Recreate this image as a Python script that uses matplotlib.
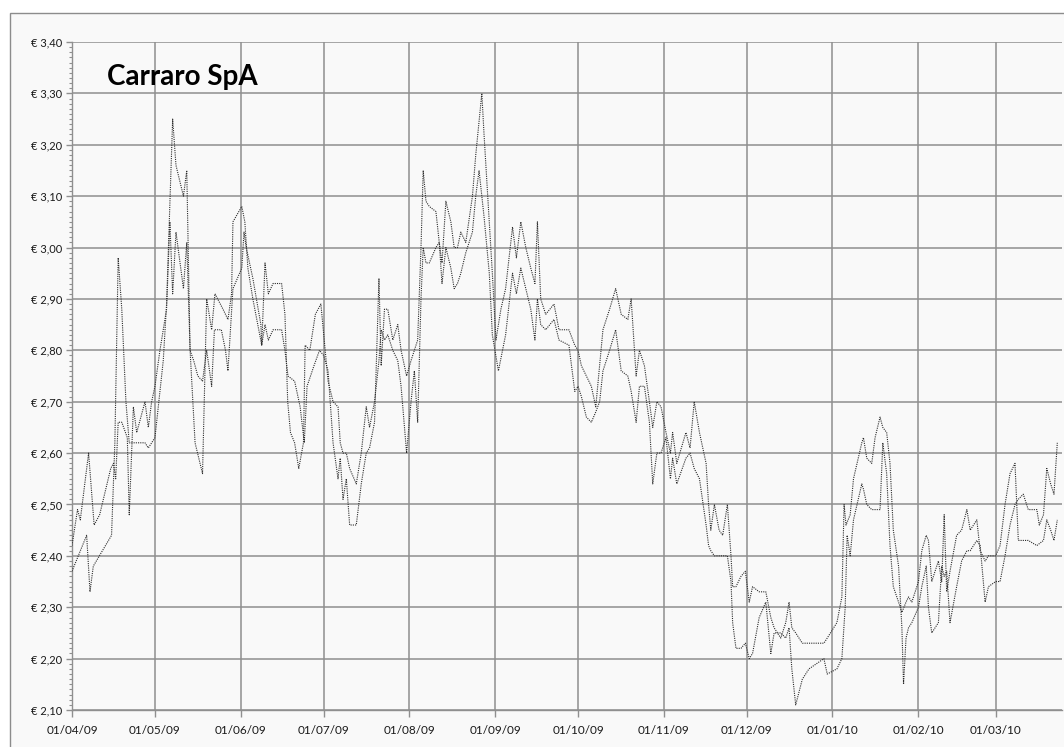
import numpy as np
import matplotlib
matplotlib.use('Agg')
import matplotlib.pyplot as plt
import matplotlib.dates as mdates
from matplotlib.ticker import MultipleLocator, FuncFormatter
from matplotlib.patches import Rectangle

# days counted from 01/04/09, values in euro
day_a = [0, 2, 3, 6, 8, 10, 14, 15, 15.8, 16.7, 18, 20, 20.7, 22.2, 23.4, 26.4, 27.6, 28.8,
         30, 31.8, 34.2, 35.4, 36.4, 37.6, 40.3, 41.5, 42.7, 44.5, 47.2, 48.7, 50.5, 51.7,
         54.6, 56.4, 57.7, 58.2, 61.4, 62.5, 63.6, 65.4, 68.6, 69.8, 71, 72.7, 75.8, 77, 78,
         79, 80.5, 82, 83.7, 84.3, 86, 88, 90,
         92.6, 94.4, 96.2, 97, 98, 99.2, 100.4, 102.8, 104.6, 106.4, 107.6, 109.4, 111,
         111.8, 113, 114.2, 116, 117.8, 119, 121, 122.6, 123.8, 125, 126.2, 127, 128, 129.2,
         131.6, 132.8, 133.8, 135.2, 137, 138.2, 139.4, 140.6, 142.4, 144.8, 146, 147.2, 149,
         150.9, 152, 154.2, 156.8, 159.3, 160.7, 162.3, 164.1, 165.9, 167.4, 168.3, 169.5,
         171.3, 174.3, 176.1, 179.7, 181.8,
         183, 184.2, 186, 187.8, 189.4, 190.8, 192, 194.4, 196.6, 198.6, 201, 202.2, 204,
         205.2, 207, 208.8, 210, 211.5, 213, 214.8, 216.4, 217.2, 218.7, 222, 223.5, 225,
         226.9, 229.3, 230.2, 231, 232.3, 234, 235.3, 237, 238.3, 238.9, 240.1, 241.9, 243.5,
         244.9, 246.1, 248.5, 250.9, 252.7, 253.9, 256.3, 258.1, 259.3, 260.3, 261.7, 264.1,
         266.5, 271.9, 273.1,
         276.6, 278.4, 279.6, 280.3, 281.4, 282.6, 285.6, 286.2, 287.4, 289.2, 290.4, 292.2,
         293.2, 294.6, 295.8, 297, 298.9, 300.1, 301.6, 302.5, 303.7, 306.1, 307.3, 308.9,
         309.7, 310.9, 313.3, 314.5, 315.4, 316.3, 317.5, 319.9, 321.7, 323.6, 324.8, 327.2,
         328.4, 330.2, 331.4, 334, 335.6, 337.4, 339.2, 341, 342.2, 344, 345.8, 348.9, 351.3,
         352.5, 353.9, 355.1, 356.3]
price_a = [2.42, 2.49, 2.47, 2.60, 2.46, 2.48, 2.57, 2.58, 2.55, 2.66, 2.66, 2.63, 2.48, 2.69,
           2.64, 2.70, 2.65, 2.70, 2.73, 2.80, 2.88, 3.05, 2.91, 3.03, 2.92, 3.01, 2.80, 2.62,
           2.56, 2.90, 2.84, 2.91, 2.88, 2.86, 2.91, 3.05, 3.08, 3.05, 2.96, 2.90, 2.81, 2.97,
           2.91, 2.93, 2.93, 2.87, 2.70, 2.64, 2.62, 2.57, 2.62, 2.81, 2.80, 2.87, 2.89,
           2.74, 2.70, 2.69, 2.62, 2.60, 2.60, 2.57, 2.54, 2.60, 2.69, 2.65, 2.70, 2.78,
           2.84, 2.82, 2.83, 2.80, 2.78, 2.73, 2.60, 2.70, 2.76, 2.66, 2.90, 3.00, 2.97, 2.97,
           3.00, 3.01, 2.93, 3.00, 2.96, 2.92, 2.93, 2.95, 2.99, 3.03, 3.10, 3.15, 3.06,
           2.95, 2.83, 2.76, 2.83, 2.95, 2.91, 2.96, 2.92, 2.88, 2.82, 2.90, 2.85,
           2.84, 2.86, 2.82, 2.81, 2.72,
           2.73, 2.71, 2.67, 2.66, 2.68, 2.70, 2.76, 2.80, 2.84, 2.76, 2.75, 2.72, 2.66,
           2.73, 2.73, 2.66, 2.54, 2.60, 2.60, 2.63, 2.55, 2.59, 2.54, 2.59, 2.60, 2.57,
           2.55, 2.46, 2.42, 2.41, 2.40, 2.40, 2.40, 2.40, 2.35, 2.27, 2.22, 2.22, 2.23,
           2.20, 2.21, 2.28, 2.31, 2.21, 2.25, 2.25, 2.24, 2.26, 2.18, 2.11, 2.16,
           2.18, 2.20, 2.17,
           2.18, 2.20, 2.30, 2.44, 2.40, 2.47, 2.54, 2.53, 2.50, 2.49, 2.49, 2.49,
           2.62, 2.56, 2.42, 2.34, 2.31, 2.29, 2.31, 2.32, 2.31, 2.35, 2.41, 2.44,
           2.43, 2.35, 2.39, 2.35, 2.48, 2.33, 2.37, 2.44, 2.45, 2.49, 2.45, 2.47,
           2.41, 2.39, 2.40, 2.40, 2.42, 2.50, 2.56, 2.58, 2.43, 2.43, 2.43, 2.42, 2.43,
           2.47, 2.45, 2.43, 2.47]

day_b = [0, 5.3, 6.5, 7.7, 11, 14.3, 15.5, 16.7, 18, 19.5, 20.7, 22.2, 26.4, 27.6, 30, 31.8,
         33, 34.2, 36.4, 37.6, 40.3, 41.5, 42.7, 44, 45.5, 47.2, 48.7, 50.5, 51.5, 54, 55.5,
         56.4, 58.2, 61.4, 62.2, 63, 65.4, 68.3, 68.6, 69.8, 71, 72.7, 75.8, 77, 78.1, 80.5,
         82.5, 84, 85, 87.5, 89.5, 91,
         92.6, 94.4, 96.2, 97, 98, 99.2, 100.4, 102.8, 104.6, 106.4, 107.6, 109.4, 111,
         111.8, 113, 114.2, 116, 117.8, 119, 121, 122.6, 123.8, 125, 126.2, 127, 128, 129.2,
         131.6, 132.8, 133.8, 135.2, 137, 138.2, 139.4, 140.6, 142.4, 144.8, 146, 148.2, 149,
         150.9, 152, 153.3, 155.1, 156.8, 159.3, 160.7, 162.3, 164.1, 165.9, 167.4, 168.3,
         169.5, 171.3, 174.3, 176.1, 179.7, 181.8,
         183, 184.2, 186, 187.8, 189.4, 190.8, 192, 194.4, 196.6, 198.6, 201, 202.2, 204,
         205.2, 207, 208.8, 210, 211.5, 213, 214.8, 216.4, 217.2, 218.7, 222, 223.5, 225,
         226.9, 229.3, 230.2, 231, 232.3, 234, 235.3, 237, 238.3, 238.9, 240.1, 241.9, 243.5,
         244.9, 246.1, 248.5, 250.9, 252.7, 253.9, 256.3, 258.1, 259.3, 260.3, 261.7, 264.1,
         266.5, 271.9, 273.1,
         276.6, 278.4, 279.2, 279.9, 281.4, 282.6, 285.6, 286.2, 287.4, 289.2, 290.4, 292.2,
         293.2, 294.6, 295.8, 297, 298.9, 300.1, 300.7, 301.6, 302.5, 303.7, 306.1, 307.3,
         308.9, 309.7, 310.9, 313.3, 314.5, 315.4, 316.3, 317.5, 319.9, 321.7, 323.6, 324.8,
         327.2, 328.4, 330.2, 331.4, 334, 335.6, 337.4, 339.2, 341, 342.2, 344, 345.8, 348.9,
         349.8, 351.3, 352.5, 353.9, 355.1, 356.3]
price_b = [2.37, 2.44, 2.33, 2.38, 2.41, 2.44, 2.62, 2.98, 2.88, 2.70, 2.62, 2.62, 2.62, 2.61,
           2.63, 2.72, 2.78, 2.89, 3.25, 3.16, 3.10, 3.15, 2.80, 2.78, 2.75, 2.74, 2.80, 2.73,
           2.84, 2.84, 2.80, 2.76, 2.92, 2.96, 3.03, 3.00, 2.94, 2.85, 2.81, 2.85, 2.82, 2.84,
           2.84, 2.80, 2.75, 2.74, 2.69, 2.62, 2.73, 2.77, 2.80, 2.79,
           2.76, 2.62, 2.55, 2.59, 2.51, 2.55, 2.46, 2.46, 2.54, 2.60, 2.61, 2.66, 2.94,
           2.77, 2.88, 2.88, 2.82, 2.85, 2.80, 2.75, 2.78, 2.80, 2.82, 3.00, 3.15, 3.09, 3.08,
           3.07, 3.01, 2.97, 3.09, 3.05, 3.00, 3.00, 3.03, 3.01, 3.10, 3.18, 3.30, 3.22,
           3.05, 2.95, 2.82, 2.88, 2.92, 3.04, 2.98, 3.05, 3.00, 2.96, 2.93, 3.05,
           2.90, 2.87, 2.89, 2.84, 2.84, 2.81,
           2.80, 2.77, 2.75, 2.73, 2.69, 2.77, 2.84, 2.88, 2.92, 2.87, 2.86, 2.90, 2.75,
           2.80, 2.77, 2.70, 2.65, 2.70, 2.69, 2.64, 2.60, 2.64, 2.58, 2.64, 2.61, 2.70,
           2.64, 2.58, 2.50, 2.45, 2.50, 2.45, 2.44, 2.50, 2.40, 2.34, 2.34, 2.36, 2.37,
           2.31, 2.34, 2.33, 2.33, 2.28, 2.26, 2.24, 2.27, 2.31, 2.26, 2.25, 2.23,
           2.23, 2.23, 2.24,
           2.27, 2.32, 2.50, 2.46, 2.48, 2.55, 2.62, 2.63, 2.59, 2.58, 2.63, 2.67,
           2.65, 2.64, 2.58, 2.45, 2.38, 2.26, 2.15, 2.24, 2.26, 2.27, 2.30, 2.34,
           2.38, 2.30, 2.25, 2.27, 2.38, 2.36, 2.37, 2.27, 2.34, 2.39, 2.41, 2.41,
           2.43, 2.42, 2.31, 2.34, 2.35, 2.35, 2.40, 2.46, 2.50, 2.51, 2.52, 2.49, 2.49,
           2.46, 2.48, 2.57, 2.54, 2.52, 2.62]

start = np.datetime64('2009-04-01T00:00')
end = np.datetime64('2010-03-25T00:00')


def to_dates(days):
    return start + (np.array(days) * 24 * 60).astype('timedelta64[m]')


plt.rcParams['font.family'] = ['Lato', 'DejaVu Sans']

fig = plt.figure(figsize=(10.64, 7.47), dpi=100)
fig.patch.set_facecolor('white')

# chart area frame
frame = Rectangle((10 / 1064, -0.01), 1.02, (747 - 13) / 747 + 0.01,
                  transform=fig.transFigure, facecolor='#f9f9f9',
                  edgecolor='#8c8c8c', linewidth=1.0, zorder=-10)
fig.add_artist(frame)

ax = fig.add_axes([72 / 1064, 37 / 747, 990 / 1064, 668 / 747])
ax.set_facecolor('#f9f9f9')
ax.set_zorder(1)

grid_col = '#8f8f8f'
line_style = dict(linestyle=(0, (1, 1)), linewidth=0.8, color='#2b2b2b', zorder=3)
ax.plot(to_dates(day_a), price_a, **line_style)
ax.plot(to_dates(day_b), price_b, **line_style)

ax.set_ylim(2.10, 3.40)
ax.set_xlim(start, end)

ax.yaxis.set_major_locator(MultipleLocator(0.10))
ax.yaxis.set_minor_locator(MultipleLocator(0.01))
ax.yaxis.set_major_formatter(FuncFormatter(lambda v, p: '€ ' + f'{v:.2f}'.replace('.', ',')))

ax.xaxis.set_major_locator(mdates.MonthLocator(bymonthday=1))
ax.xaxis.set_major_formatter(mdates.DateFormatter('%d/%m/%y'))

ax.grid(True, which='major', color=grid_col, linewidth=1.1)
ax.set_axisbelow(True)

for side in ['top', 'right']:
    ax.spines[side].set_visible(False)
for side in ['left', 'bottom']:
    ax.spines[side].set_color(grid_col)
    ax.spines[side].set_linewidth(1.0)

ax.tick_params(axis='y', which='major', length=4, width=1, color=grid_col,
               labelsize=8, labelcolor='#1a1a1a', pad=3)
ax.tick_params(axis='y', which='minor', length=2.5, width=0.8, color=grid_col)
ax.tick_params(axis='x', which='major', length=5, width=1, color=grid_col,
               labelsize=8.5, labelcolor='#1a1a1a', pad=6)

ax.text(0.035, 0.948, 'Carraro SpA', transform=ax.transAxes, fontsize=20,
        fontweight='bold', va='center', ha='left', color='black')

fig.savefig('out.png', dpi=100, facecolor=fig.get_facecolor())
